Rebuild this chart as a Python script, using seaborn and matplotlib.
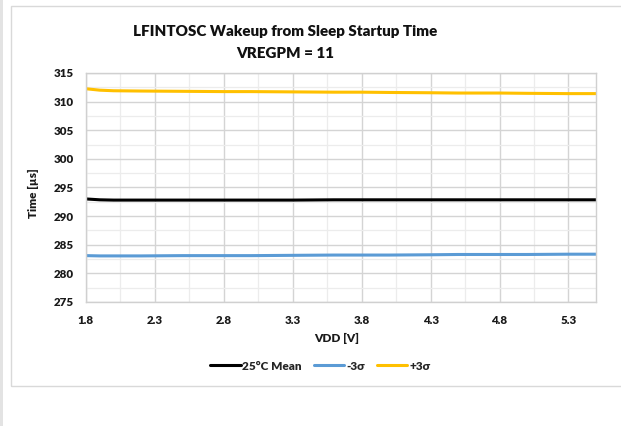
import matplotlib
matplotlib.use("Agg")
import matplotlib.pyplot as plt
import seaborn as sns
import pandas as pd
import numpy as np
from matplotlib.patches import Rectangle
from matplotlib.lines import Line2D

vdd = [1.8, 1.9, 2.0, 2.2, 2.5, 2.8, 3.0, 3.3, 3.6, 3.8, 4.0, 4.3, 4.5, 4.8, 5.0, 5.3, 5.5]
mean_25c = [293.0, 292.85, 292.8, 292.8, 292.8, 292.8, 292.8, 292.8, 292.85, 292.85, 292.85, 292.85, 292.85, 292.85, 292.85, 292.85, 292.85]
minus_3s = [283.1, 283.05, 283.05, 283.05, 283.1, 283.1, 283.1, 283.15, 283.2, 283.2, 283.2, 283.25, 283.3, 283.3, 283.3, 283.35, 283.35]
plus_3s = [312.25, 312.0, 311.9, 311.85, 311.8, 311.75, 311.75, 311.7, 311.65, 311.65, 311.6, 311.55, 311.5, 311.5, 311.45, 311.4, 311.4]

series_names = ["25\u00b0C Mean", "-3\u03c3", "+3\u03c3"]
series_colors = ["#000000", "#5b9bd5", "#ffc000"]
x_ticks = [1.8, 2.3, 2.8, 3.3, 3.8, 4.3, 4.8, 5.3]
y_ticks = [275, 280, 285, 290, 295, 300, 305, 310, 315]

df = pd.concat([
    pd.DataFrame({"VDD": vdd, "Time": v, "Series": n})
    for v, n in zip([mean_25c, minus_3s, plus_3s], series_names)
])

sns.set_theme(style="white")
plt.rcParams["font.family"] = ["Lato", "DejaVu Sans"]

W, H = 621, 426
fig = plt.figure(figsize=(W / 100, H / 100), dpi=100)
ax = fig.add_axes([86 / W, 1 - 302 / H, (596 - 86) / W, (302 - 73) / H])

sns.lineplot(data=df, x="VDD", y="Time", hue="Series", palette=dict(zip(series_names, series_colors)),
             linewidth=2.2, ax=ax, legend=False)

ax.set_xlim(1.8, 5.5)
ax.set_ylim(275, 315)
ax.set_xticks(x_ticks)
ax.set_xticklabels([f"{t:.1f}" for t in x_ticks])
ax.set_yticks(y_ticks)
ax.set_xticks(np.arange(1.8, 5.51, 0.25), minor=True)
ax.set_yticks(np.arange(275, 315.1, 2.5), minor=True)
ax.grid(True, which="major", color="#d4d4d4", linewidth=1.0)
ax.grid(True, which="minor", color="#ececec", linewidth=0.9)
ax.set_axisbelow(True)
for s in ax.spines.values():
    s.set_color("#d0d0d0")
    s.set_linewidth(1.0)
ax.tick_params(axis="both", which="both", length=0, labelsize=8.3, colors="#1a1a1a")
ax.tick_params(axis="y", pad=9)
ax.tick_params(axis="x", pad=9)
for lab in ax.get_xticklabels() + ax.get_yticklabels():
    lab.set_fontweight("heavy")
ax.set_xlabel("")
ax.set_ylabel("")

fig.text(285 / W, 1 - 32 / H, "LFINTOSC Wakeup from Sleep Startup Time", ha="center", va="center",
         fontsize=10.9, fontweight="heavy", color="#111111")
fig.text(285 / W, 1 - 53 / H, "VREGPM = 11", ha="center", va="center",
         fontsize=10.9, fontweight="heavy", color="#111111")
fig.text(337 / W, 1 - 338 / H, "VDD [V]", ha="center", va="center", fontsize=8.5, fontweight="heavy", color="#1a1a1a")
fig.text(33 / W, 1 - 193 / H, "Time [\u00b5s]", ha="center", va="center", rotation=90,
         fontsize=8.5, fontweight="heavy", color="#1a1a1a")

handles = [Line2D([0], [0], color=c, lw=2.2) for c in series_colors]
leg = fig.legend(handles, series_names, loc="center", bbox_to_anchor=(320 / W, 1 - 366 / H), ncol=3,
                 frameon=False, handlelength=2.6, handletextpad=0.15, columnspacing=1.0,
                 prop={"weight": "heavy", "size": 8.5})

fig.patches.append(Rectangle((11 / W, 1 - 386 / H), (W + 5 - 11) / W, (386 - 6) / H, transform=fig.transFigure,
                             fill=False, edgecolor="#d9d9d9", linewidth=1.0))
fig.patches.append(Rectangle((0, 0), 3 / W, 1, transform=fig.transFigure, facecolor="#e3e3e3", edgecolor="none"))

fig.savefig("out.png", dpi=100)
